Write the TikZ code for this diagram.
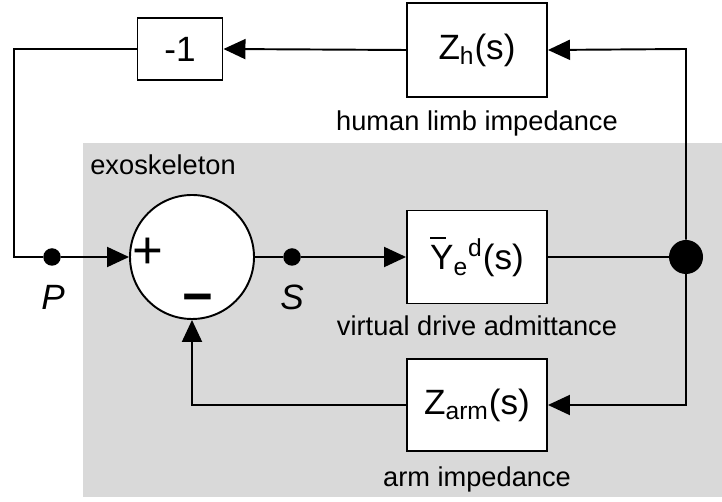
\documentclass[tikz,border=0pt]{standalone}
\usepackage{fontspec}
\setmainfont{Liberation Sans}
\usetikzlibrary{arrows.meta, positioning, calc}
\definecolor{exocolor}{RGB}{217, 217, 217}
\newcommand{\ybar}{\leavevmode\rlap{\raisebox{0.88em}{\rule{0.45em}{0.06em}}}Y}

\begin{document}
\begin{tikzpicture}[
    blockbox/.style={draw, line width=1.1pt, fill=white, minimum width=2.8cm, minimum height=1.86cm, inner sep=0pt, font=\fontsize{20}{24}\selectfont},
    caption/.style={inner sep=0pt, font=\fontsize{15.5}{18}\selectfont},
    sumnode/.style={draw, circle, line width=1.1pt, fill=white, minimum size=2.48cm, inner sep=0pt},
    dotnode/.style={circle, fill=black, minimum size=0.35cm, inner sep=0pt},
    signame/.style={inner sep=0pt, font=\fontsize{20}{24}\selectfont\itshape},
    signal/.style={line width=1.1pt},
    flow/.style={signal, -{Triangle[length=0.44cm, width=0.4cm]}},
]
    \useasboundingbox (0,0) rectangle (14.44,10.02);

    % Exoskeleton area
    \fill[exocolor] (1.66,0.08) rectangle (14.44,7.16);
    \node[caption, anchor=west] (exolabel) at (1.8,6.72) {exoskeleton};

    % Summing junction
    \node[sumnode] (sum) at (3.84,4.88) {};
    \node[inner sep=0pt, font=\fontsize{30}{32}\selectfont] (plus) at (2.96,4.95) {+};
    \node[inner sep=0pt, font=\fontsize{30}{32}\selectfont\bfseries] (minus) at (3.96,3.93) {−};

    % Signal points
    \node[dotnode] (P) at (1.04,4.88) {};
    \node[signame] (Plabel) at (1.06,4.08) {P};
    \node[dotnode] (S) at (5.84,4.88) {};
    \node[signame] (Slabel) at (5.84,4.08) {S};
    \node[dotnode, minimum size=0.68cm] (branch) at (13.72,4.88) {};

    % Blocks
    \node[blockbox, minimum width=1.7cm, minimum height=1.24cm] (minusone) at (3.6,9.04) {-1};
    \node[blockbox, minimum height=1.88cm] (Zh) at (9.54,9.02) {Z\textsubscript{h}(s)};
    \node[blockbox] (Ye) at (9.54,4.88) {\ybar\textsubscript{e}\textsuperscript{d}(s)};
    \node[blockbox, minimum height=1.84cm] (Zarm) at (9.54,1.92) {Z\textsubscript{arm}(s)};

    % Captions
    \node[caption, below=0.24cm of Zh] (Zhlabel) {human limb impedance};
    \node[caption, below=0.22cm of Ye] (Yelabel) {virtual drive admittance};
    \node[caption, below=0.28cm of Zarm] (Zarmlabel) {arm impedance};

    % Corners
    \coordinate (topleft) at (0.28,9.04);
    \coordinate (topright) at (13.72,9.04);
    \coordinate (botright) at (13.72,1.92);

    % Connectors
    \draw[signal] (minusone.west) -- (topleft) |- (P);
    \draw[flow] (P) -- (sum.west);
    \draw[signal] (sum.east) -- (S);
    \draw[flow] (S) -- (Ye.west);
    \draw[signal] (Ye.east) -- (branch);
    \draw[flow] (branch) -- (topright) -- (Zh.east);
    \draw[flow] (Zh.west) -- (minusone.east);
    \draw[flow] (branch) -- (botright) -- (Zarm.east);
    \draw[flow] (Zarm.west) -| (sum.south);
\end{tikzpicture}
\end{document}
